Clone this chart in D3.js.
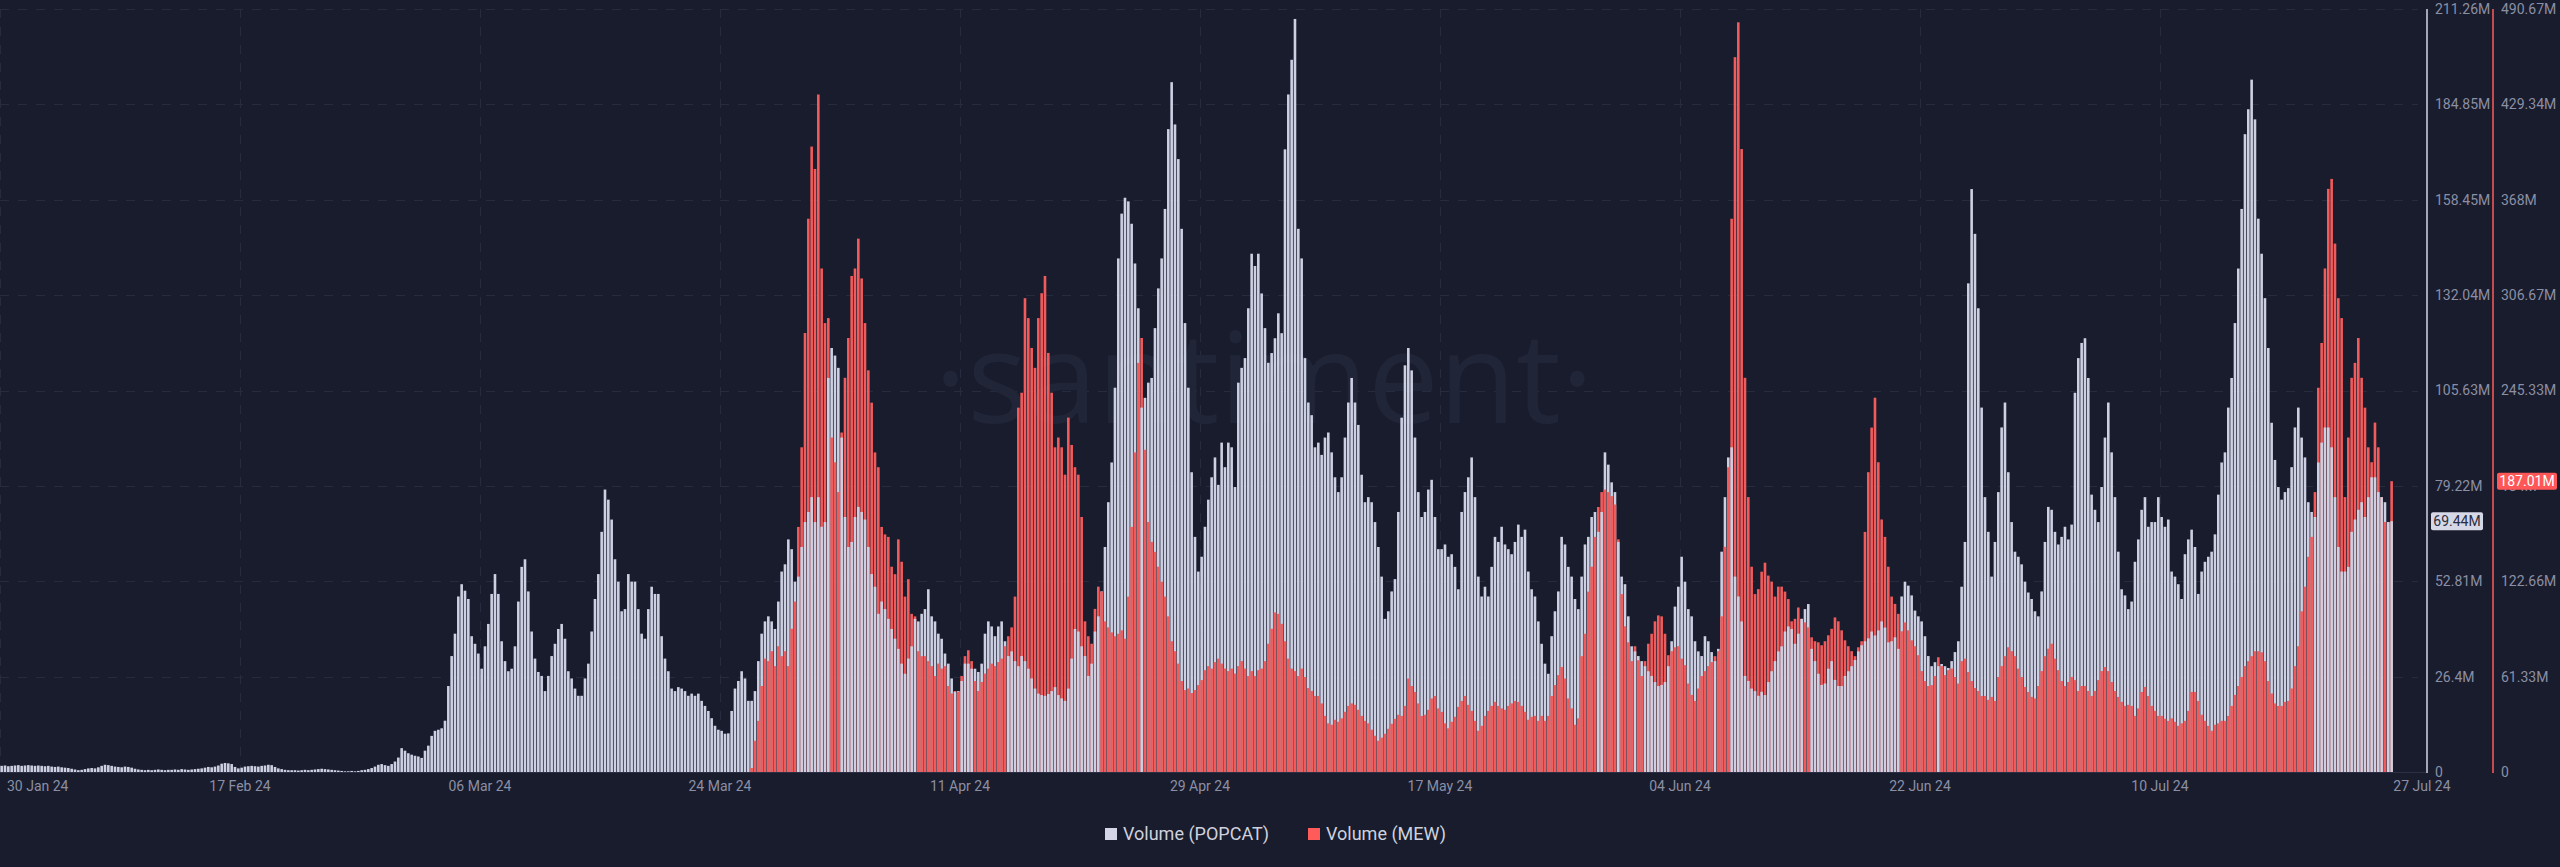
<!DOCTYPE html>
<html>
<head>
<meta charset="utf-8">
<script src="https://cdn.jsdelivr.net/npm/d3@7"></script>
<style>
  html, body { margin: 0; padding: 0; background: #191c2c; }
  svg { display: block; }
</style>
</head>
<body>
<svg id="chart" width="2560" height="867"></svg>
<script>
// 6-hour volume bars, values in millions (USD)
const stepHours = 6;
const popcatStart = "2024-01-30T00:00:00Z";
const mewStart = "2024-03-26T06:00:00Z";

const popcatVolume = [
  1.7,1.8,1.6,1.7,1.8,1.9,1.7,1.8,1.9,1.8,1.7,1.8,1.7,1.6,1.7,1.5,1.4,1.5,1.3,1.2,
  1.1,0.9,0.7,0.5,0.6,0.8,1.0,1.1,1.0,1.3,1.7,2.0,1.9,1.7,1.5,1.4,1.3,1.5,1.4,1.2,
  0.9,0.7,0.6,0.5,0.6,0.5,0.6,0.7,0.6,0.5,0.6,0.6,0.7,0.6,0.8,0.7,0.6,0.7,0.8,0.9,
  1.0,1.2,1.4,1.3,1.5,1.8,2.3,2.5,2.4,2.2,1.4,1.0,1.2,1.5,1.6,1.7,1.6,1.5,1.7,1.8,
  2.0,1.9,1.4,1.0,0.8,0.6,0.5,0.5,0.5,0.4,0.5,0.6,0.5,0.6,0.7,0.8,0.9,0.8,0.7,0.6,
  0.5,0.4,0.3,0.2,0.2,0.3,0.2,0.3,0.5,0.6,0.8,1.1,1.5,2.0,2.2,1.9,1.7,2.2,2.9,4.0,
  6.6,5.9,5.2,4.8,4.5,4.3,3.9,5.9,7.3,10.0,11.4,11.7,12.1,14.2,23.8,32.1,38.3,48.6,52.0,50.2,
  47.9,37.6,35.5,32.8,28.6,34.8,41.0,49.3,54.8,49.3,36.2,30.7,27.9,28.6,34.8,47.2,56.8,58.9,50.0,38.9,
  31.4,27.7,26.6,22.4,26.6,32.1,35.5,39.6,41.0,36.9,27.9,25.9,23.1,21.1,21.1,25.9,30.0,38.9,47.9,54.8,
  66.5,78.2,75.4,69.9,58.9,52.7,44.5,45.1,54.8,52.7,52.7,45.1,38.3,36.9,45.1,51.3,49.3,49.3,37.6,31.4,
  27.9,23.1,22.4,23.5,23.1,22.4,21.1,21.7,21.1,21.7,19.7,18.3,16.9,14.9,12.8,11.7,11.4,10.6,10.7,16.9,
  23.1,25.2,27.9,25.9,19.7,19.7,22.4,30.7,38.3,41.7,43.1,41.7,39.6,47.2,55.5,57.5,64.4,61.7,52.7,54.1,
  62.3,69.2,72.0,76.1,69.2,76.1,67.9,69.2,109.1,117.4,115.3,111.9,92.6,70.6,62.3,63.7,70.6,73.4,72.0,69.9,
  62.3,54.8,51.3,43.8,47.2,45.1,42.4,39.6,36.9,34.1,30.0,27.2,31.4,34.8,42.4,41.7,43.8,45.1,50.6,43.1,
  41.7,38.3,36.9,32.8,30.0,25.9,22.2,22.4,25.2,30.0,30.0,28.6,28.6,27.7,30.0,38.3,41.7,40.3,37.6,40.3,
  41.7,36.2,32.1,33.4,30.7,29.3,32.1,30.7,28.6,25.9,23.1,21.7,21.3,21.1,21.6,22.4,23.5,21.3,20.4,19.7,
  23.1,31.4,39.6,38.9,34.8,32.1,26.6,30.0,38.9,43.1,50.0,62.3,74.7,85.7,106.4,142.2,154.6,159.0,158.0,151.8,
  140.8,128.4,100.9,103.6,107.8,109.1,122.9,133.9,142.2,155.9,178.0,191.0,179.3,169.7,150.4,124.3,106.4,83.0,65.1,55.5,
  59.6,67.9,75.4,81.6,87.1,79.5,91.2,84.4,91.2,89.9,78.9,107.8,111.9,114.6,128.4,143.5,140.1,143.5,132.5,122.9,
  113.3,116.0,120.1,127.0,121.5,172.4,187.6,197.2,208.5,150.4,142.2,114.6,102.3,98.8,89.9,91.2,87.8,92.6,94.0,88.5,
  81.6,77.5,81.6,92.6,102.3,109.1,102.3,96.1,82.3,74.7,76.1,74.7,69.2,62.3,54.1,42.4,44.5,50.0,53.4,72.0,
  98.1,112.6,117.4,111.2,92.6,77.5,70.6,72.0,78.2,80.9,70.6,61.7,61.7,63.0,59.6,60.3,56.8,50.6,72.0,77.5,
  81.6,87.1,76.1,54.1,48.6,51.3,48.6,56.8,65.1,63.7,67.9,63.0,61.7,60.3,63.7,68.5,65.1,67.1,55.5,50.6,
  48.6,41.7,35.5,30.0,27.2,37.6,44.5,50.0,65.1,63.0,56.8,54.1,47.9,45.1,54.1,63.0,65.1,70.6,72.0,66.5,
  72.0,88.5,85.1,80.2,77.5,63.7,54.1,52.0,43.1,34.8,33.4,32.1,30.7,29.3,27.9,26.6,24.9,23.8,24.1,24.9,
  29.3,36.2,45.8,51.3,59.6,52.7,45.1,43.1,36.2,33.4,32.1,37.6,36.2,33.2,30.7,34.1,61.0,76.1,87.1,89.9,
  54.1,48.6,41.7,26.6,25.2,23.1,22.4,21.1,22.2,21.3,24.9,27.9,30.7,33.4,34.8,38.9,40.3,39.6,35.5,38.3,
  42.4,45.1,46.5,34.1,30.7,27.2,24.1,24.5,28.6,30.7,25.5,23.8,23.8,26.6,27.9,29.3,31.0,33.4,35.1,36.2,
  37.0,38.9,37.8,39.2,41.7,40.0,35.9,36.2,37.3,34.1,48.6,52.7,51.6,48.9,44.7,43.1,41.7,37.6,32.1,29.3,
  30.4,29.3,29.9,29.3,28.8,30.7,33.2,36.2,51.3,63.7,135.3,161.4,149.0,128.4,100.9,76.1,66.5,54.1,63.7,77.5,
  95.4,102.3,83.0,69.2,61.0,59.6,57.5,52.7,49.7,47.9,44.5,43.1,50.0,63.7,73.4,72.6,66.5,63.0,65.1,67.9,
  64.4,68.5,105.0,114.6,118.8,120.1,109.1,76.8,72.6,69.2,78.9,92.6,102.3,88.5,76.1,61.0,50.6,48.9,45.1,47.2,
  58.2,64.4,72.6,76.1,67.9,69.2,69.2,76.1,70.6,67.9,69.9,55.5,54.1,52.0,47.9,60.3,64.4,67.1,62.3,49.3,
  55.5,58.2,59.6,61.0,65.8,76.8,85.7,88.5,100.9,109.1,124.3,139.4,155.9,176.6,183.5,191.7,180.7,153.2,143.5,131.2,
  117.4,96.7,86.4,78.9,75.4,77.5,78.6,84.4,95.4,100.9,92.6,87.1,74.7,72.0,70.6,85.7,91.2,95.4,95.4,89.9,
  76.1,62.3,55.5,55.5,56.8,66.5,69.9,72.6,74.7,70.6,76.1,81.6,81.6,77.5,76.1,74.7,69.2,69.44
];

const mewVolume = [
  2.6,20.1,32.9,55.3,72.9,71.3,77.7,68.1,80.9,74.5,77.7,68.1,92.1,109.6,157.6,208.8,282.3,355.8,402.2,387.8,
  435.7,323.8,288.7,291.9,215.1,199.2,180.0,218.3,253.5,279.1,319.0,323.8,343.0,317.4,288.7,258.3,237.5,205.5,196.0,157.6,
  152.8,151.2,132.0,127.2,149.6,135.2,112.8,124.0,101.7,100.1,77.7,74.5,74.5,71.3,68.1,61.7,69.7,66.5,68.1,55.3,
  50.5,52.1,51.5,61.7,74.5,78.3,71.3,58.5,52.1,57.9,63.3,66.5,69.7,68.1,70.7,72.9,80.9,87.3,93.0,112.8,
  234.3,243.9,304.7,291.9,272.7,259.9,291.9,307.9,319.0,269.5,243.9,208.8,215.1,208.8,191.2,
  227.9,210.3,196.0,191.2,164.0,96.9,87.3,82.5,104.9,119.2,116.0,96.9,93.0,89.8,87.3,88.9,91.1,85.7,112.8,157.6,
  205.5,263.1,279.1,207.2,160.8,148.0,141.6,132.0,122.4,112.8,100.1,84.1,77.7,69.7,58.5,52.7,53.7,50.8,52.7,55.9,
  59.1,65.5,68.1,66.5,70.7,72.9,69.7,66.5,64.9,66.5,63.3,68.1,71.3,66.5,61.7,64.9,61.7,65.5,66.5,71.3,
  82.5,92.1,102.6,101.7,95.3,84.1,72.9,66.5,64.9,61.7,66.5,61.1,54.0,52.1,48.9,48.9,44.1,36.1,31.3,30.4,
  33.6,32.3,34.5,38.7,42.5,44.1,43.2,40.0,36.1,32.9,31.3,27.2,23.3,20.1,22.1,24.6,27.8,31.0,34.2,36.8,
  36.1,42.5,60.1,55.3,51.5,44.1,36.1,36.8,40.0,47.3,48.9,40.9,38.7,31.3,28.1,32.3,35.5,41.9,45.7,48.9,
  43.2,39.3,32.9,26.5,29.7,36.1,39.3,42.5,45.1,42.5,40.9,40.0,42.5,44.1,45.7,45.1,42.5,38.7,33.6,35.5,
  36.1,32.9,36.1,32.9,36.1,48.9,55.9,62.3,67.5,60.1,47.3,40.9,30.4,34.5,74.5,88.9,116.0,132.0,151.2,170.4,
  180.0,181.6,180.0,177.4,172.0,149.6,114.4,93.7,83.4,71.3,80.9,71.9,61.7,71.3,82.5,88.9,96.9,100.7,100.1,88.9,
  75.1,77.7,80.2,80.9,72.9,68.7,56.9,49.6,45.7,53.7,61.7,64.9,68.1,70.7,74.5,77.7,100.1,144.8,196.0,355.8,
  459.7,482.1,400.6,253.5,176.8,132.0,114.4,117.6,128.8,134.6,126.3,122.4,112.8,119.2,119.2,116.0,111.2,96.9,98.5,105.8,
  98.5,96.2,93.0,86.6,84.1,83.4,81.5,84.1,87.9,92.1,99.4,96.9,91.1,84.7,80.9,77.7,74.5,80.2,84.1,154.4,
  192.8,221.5,240.7,199.2,162.4,151.2,132.0,112.8,108.1,101.7,90.5,96.2,91.1,84.7,80.9,75.1,64.9,58.5,55.3,55.9,
  61.7,73.8,68.1,62.3,65.5,66.5,61.1,56.9,71.3,72.9,64.3,58.5,54.0,52.1,48.9,48.9,46.4,48.3,45.7,61.1,
  68.1,74.5,80.2,77.7,74.5,66.5,61.1,54.7,51.5,48.3,47.3,55.3,64.9,74.5,79.3,82.5,72.9,65.5,58.5,55.3,
  57.9,61.1,59.1,52.1,55.3,55.3,52.1,48.9,52.1,59.1,64.9,67.5,64.9,57.9,52.1,48.3,45.1,42.5,43.2,42.5,
  36.1,40.9,51.5,54.7,48.9,42.5,39.3,36.1,36.1,34.2,32.9,34.5,32.3,29.7,31.3,32.9,39.3,51.5,51.5,45.7,
  36.8,32.9,29.7,26.5,30.4,31.3,32.9,32.9,36.1,42.5,49.6,55.3,61.1,68.1,71.3,74.5,77.7,77.7,77.0,71.3,
  58.5,50.5,44.1,42.5,42.5,45.1,45.7,53.7,68.1,80.9,103.3,119.2,138.4,151.2,180.0,247.1,275.9,323.8,375.0,381.4,
  339.8,304.7,291.9,176.8,215.1,253.5,263.1,279.1,253.5,234.3,208.8,199.2,224.7,208.8,176.8,160.8,160.8,187.01
];

const dateTicks = ["2024-01-30", "2024-02-17", "2024-03-06", "2024-03-24", "2024-04-11", "2024-04-29",
                   "2024-05-17", "2024-06-04", "2024-06-22", "2024-07-10", "2024-07-27"];
const popcatTicks = [0, 26.4, 52.81, 79.22, 105.63, 132.04, 158.45, 184.85, 211.26];
const mewTicks = [0, 61.33, 122.66, 184, 245.33, 306.67, 368, 429.34, 490.67];
const seriesNames = ["Volume (POPCAT)", "Volume (MEW)"];

// colours
const BG = "#191c2c";
const POP_COLOR = "#cdd0e2";
const MEW_COLOR = "#f25b5b";
const GRID = "#272b3e";
const TICK_TEXT = "#8b8fa5";

const W = 2560, H = 867;
const plot = { left: 0, right: 2393.3, top: 9, bottom: 772 };

const svg = d3.select("#chart");
svg.append("rect").attr("width", W).attr("height", H).attr("fill", BG);

const t0 = new Date(popcatStart);
const x = d3.scaleUtc()
  .domain([t0, d3.utcHour.offset(t0, stepHours * popcatVolume.length)])
  .range([plot.left, plot.right]);
const yPop = d3.scaleLinear().domain([0, d3.max(popcatTicks)]).range([plot.bottom, plot.top]);
const yMew = d3.scaleLinear().domain([0, d3.max(mewTicks)]).range([plot.bottom, plot.top]);

// gridlines
const grid = svg.append("g");
grid.selectAll("line.h")
  .data(popcatTicks.slice(1))
  .join("line")
  .attr("x1", 0).attr("x2", 2418)
  .attr("y1", d => Math.round(yPop(d)) + 0.5).attr("y2", d => Math.round(yPop(d)) + 0.5)
  .attr("stroke", GRID).attr("stroke-dasharray", "9,9");
grid.selectAll("line.v")
  .data(dateTicks.slice(0, -1))
  .join("line")
  .attr("x1", d => Math.round(x(new Date(d))) + 0.5).attr("x2", d => Math.round(x(new Date(d))) + 0.5)
  .attr("y1", plot.top).attr("y2", plot.bottom)
  .attr("stroke", GRID).attr("stroke-dasharray", "9,9");

// watermark
const wm = svg.append("text")
  .attr("x", 1264).attr("y", 423)
  .attr("text-anchor", "middle")
  .attr("font-family", "'Open Sans', 'Noto Sans', sans-serif")
  .attr("font-size", 150)
  .attr("fill", "#212538")
  .text("\u00b7santiment\u00b7");
const wmLen = wm.node().getComputedTextLength();
wm.attr("font-size", 150 * 660 / wmLen);

// bars: per time step, the visually taller bar goes behind the shorter one
const mewT0 = new Date(mewStart);
const mewOffset = Math.round((mewT0 - t0) / 36e5 / stepHours);
const rows = popcatVolume.map((v, i) => {
  const t = d3.utcHour.offset(t0, stepHours * i);
  const m = i >= mewOffset ? mewVolume[i - mewOffset] : null;
  const bars = [{ key: "pop", y: yPop(v), color: POP_COLOR }];
  if (m != null) bars.push({ key: "mew", y: yMew(m), color: MEW_COLOR });
  bars.sort((a, b) => a.y - b.y);
  return { t, bars };
});

const step = x(d3.utcHour.offset(t0, stepHours)) - x(t0);
const barW = step * 0.78;

svg.append("g")
  .selectAll("g")
  .data(rows)
  .join("g")
  .selectAll("rect")
  .data(d => d.bars.map(b => ({ ...b, t: d.t })))
  .join("rect")
  .attr("x", d => x(d.t) + (step - barW) / 2)
  .attr("width", barW)
  .attr("y", d => d.y)
  .attr("height", d => plot.bottom - d.y)
  .attr("fill", d => d.color);

// baseline
svg.append("line")
  .attr("x1", 0).attr("x2", 2427)
  .attr("y1", plot.bottom + 0.5).attr("y2", plot.bottom + 0.5)
  .attr("stroke", "#2b2f43");

// right axes
const fmt = d => d === 0 ? "0" : `${d}M`;
const axisPopX = 2427, axisMewX = 2493;

svg.append("line")
  .attr("x1", axisPopX).attr("x2", axisPopX)
  .attr("y1", plot.top).attr("y2", plot.bottom + 1)
  .attr("stroke", "#d2d5e6").attr("stroke-width", 1.5);
svg.append("line")
  .attr("x1", axisMewX).attr("x2", axisMewX)
  .attr("y1", plot.top).attr("y2", plot.bottom + 1)
  .attr("stroke", "#ff5b5b").attr("stroke-width", 1.5);

const axisFont = "Roboto, 'Liberation Sans', sans-serif";
svg.append("g").selectAll("text")
  .data(popcatTicks)
  .join("text")
  .attr("x", axisPopX + 8).attr("y", d => yPop(d))
  .attr("dy", "0.35em")
  .attr("font-family", axisFont).attr("font-size", 14)
  .attr("fill", TICK_TEXT)
  .text(fmt);
svg.append("g").selectAll("text")
  .data(mewTicks)
  .join("text")
  .attr("x", axisMewX + 8).attr("y", d => yMew(d))
  .attr("dy", "0.35em")
  .attr("font-family", axisFont).attr("font-size", 14)
  .attr("fill", TICK_TEXT)
  .text(fmt);

// x axis labels
const dateFmt = d3.utcFormat("%d %b %y");
svg.append("g").selectAll("text")
  .data(dateTicks)
  .join("text")
  .attr("x", (d, i) => i === 0 ? 7 : (i === dateTicks.length - 1 ? plot.right : x(new Date(d))))
  .attr("y", 791)
  .attr("text-anchor", (d, i) => i === 0 || i === dateTicks.length - 1 ? "start" : "middle")
  .attr("font-family", axisFont).attr("font-size", 14)
  .attr("fill", TICK_TEXT)
  .text(d => dateFmt(new Date(d)));

// last value badges
const lastPop = popcatVolume[popcatVolume.length - 1];
const lastMew = mewVolume[mewVolume.length - 1];
const badge = (xPos, yPos, w, h, fill, color, label) => {
  const g = svg.append("g");
  g.append("rect")
    .attr("x", xPos).attr("y", yPos - h / 2)
    .attr("width", w).attr("height", h)
    .attr("rx", 2)
    .attr("fill", fill);
  g.append("text")
    .attr("x", xPos + w / 2).attr("y", yPos)
    .attr("dy", "0.36em")
    .attr("text-anchor", "middle")
    .attr("font-family", axisFont).attr("font-size", 14)
    .attr("fill", color)
    .text(label);
};
badge(axisPopX + 4, yPop(lastPop), 52, 18, "#d6d8e8", "#2a2d3f", `${lastPop}M`);
badge(axisMewX + 4, yMew(lastMew), 60, 17, "#ff5757", "#ffffff", `${lastMew}M`);

// legend
const legend = svg.append("g").attr("transform", "translate(1105,834)");
const items = [
  { name: seriesNames[0], color: "#d4d6e8", x: 0 },
  { name: seriesNames[1], color: "#ff5b5b", x: 203 }
];
const li = legend.selectAll("g").data(items).join("g")
  .attr("transform", d => `translate(${d.x},0)`);
li.append("rect")
  .attr("x", 0).attr("y", -6).attr("width", 12).attr("height", 12)
  .attr("fill", d => d.color);
li.append("text")
  .attr("x", 18).attr("y", 0).attr("dy", "0.35em")
  .attr("font-family", axisFont).attr("font-size", 18)
  .attr("fill", "#cfd1de")
  .text(d => d.name);
</script>
</body>
</html>
